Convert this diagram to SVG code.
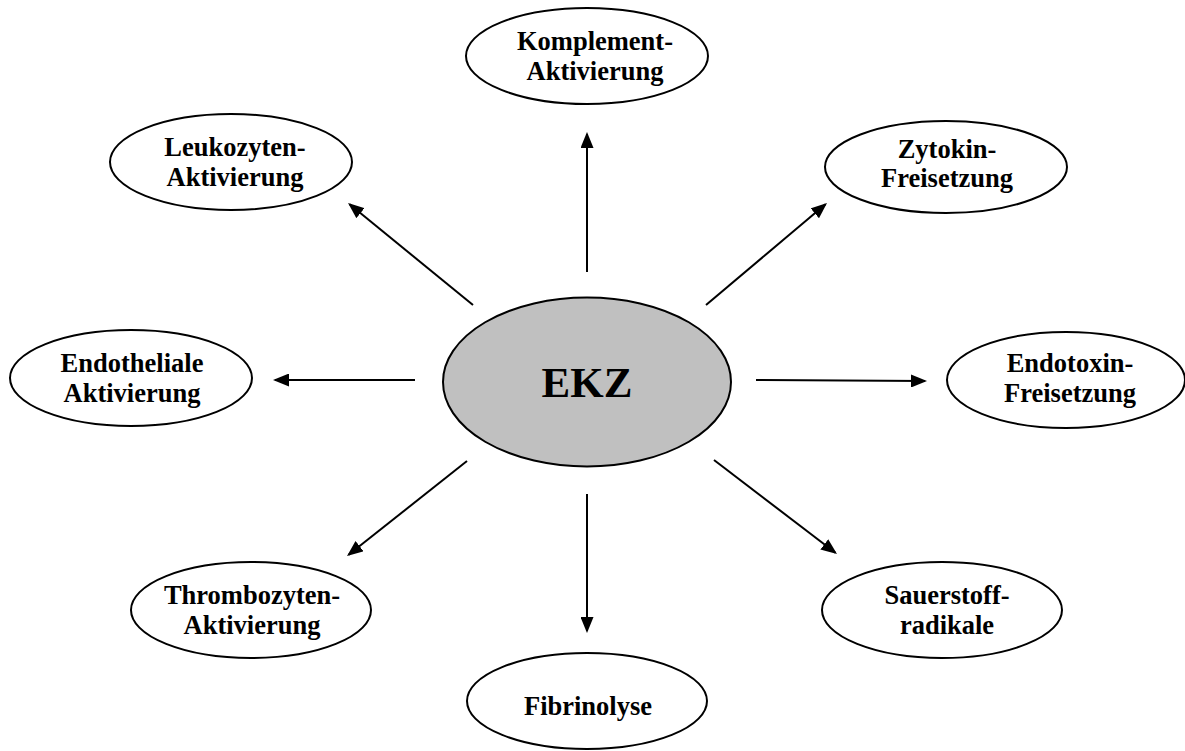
<svg xmlns="http://www.w3.org/2000/svg" width="1185" height="751" viewBox="0 0 1185 751">
  <style>
    .node { fill: #ffffff; stroke: #000000; stroke-width: 2; }
    .hub { fill: #c0c0c0; stroke: #000000; stroke-width: 2; }
    .label { font-family: "Liberation Serif", "Times New Roman", serif; font-weight: bold; font-size: 26.5px; fill: #000000; text-anchor: middle; }
    .hub-label { font-family: "Liberation Serif", "Times New Roman", serif; font-weight: bold; font-size: 43px; fill: #000000; text-anchor: middle; }
    .edge { stroke: #000000; stroke-width: 2; fill: none; marker-end: url(#arrow); }
  </style>
  <defs>
    <marker id="arrow" markerUnits="userSpaceOnUse" markerWidth="17" markerHeight="13" refX="14" refY="6.5" orient="auto">
      <path d="M0,0 L16,6.5 L0,13 Z" fill="#000000"/>
    </marker>
  </defs>

  <rect width="1185" height="751" fill="#ffffff"/>

  <!-- connectors radiating from the hub -->
  <g id="connectors">
    <line class="edge" x1="587" y1="272" x2="587" y2="134"/>
    <line class="edge" x1="473" y1="305" x2="349.6" y2="204.3"/>
    <line class="edge" x1="706" y1="305" x2="825.5" y2="204.3"/>
    <line class="edge" x1="415" y1="380" x2="275" y2="380"/>
    <line class="edge" x1="756" y1="380" x2="925" y2="381"/>
    <line class="edge" x1="467" y1="461" x2="348.6" y2="554.8"/>
    <line class="edge" x1="714" y1="460" x2="835.4" y2="552.8"/>
    <line class="edge" x1="587" y1="494" x2="587" y2="631"/>
  </g>

  <g id="ekz">
    <ellipse class="hub" cx="587" cy="382" rx="144" ry="84.5"/>
    <text class="hub-label" x="587" y="397">EKZ</text>
  </g>

  <g id="komplement">
    <ellipse class="node" cx="587" cy="56" rx="121" ry="48"/>
    <text class="label" x="595" y="50">Komplement-</text>
    <text class="label" x="595" y="80">Aktivierung</text>
  </g>

  <g id="leukozyten">
    <ellipse class="node" cx="231" cy="162" rx="121" ry="48"/>
    <text class="label" x="235" y="156">Leukozyten-</text>
    <text class="label" x="235" y="186">Aktivierung</text>
  </g>

  <g id="zytokin">
    <ellipse class="node" cx="946" cy="167" rx="121" ry="46"/>
    <text class="label" x="947" y="158">Zytokin-</text>
    <text class="label" x="947" y="187">Freisetzung</text>
  </g>

  <g id="endotheliale">
    <ellipse class="node" cx="131" cy="378" rx="121" ry="48"/>
    <text class="label" x="132" y="372">Endotheliale</text>
    <text class="label" x="132" y="402">Aktivierung</text>
  </g>

  <g id="endotoxin">
    <ellipse class="node" cx="1066" cy="380" rx="119" ry="48"/>
    <text class="label" x="1070" y="372">Endotoxin-</text>
    <text class="label" x="1070" y="402">Freisetzung</text>
  </g>

  <g id="thrombozyten">
    <ellipse class="node" cx="251" cy="610" rx="120" ry="48"/>
    <text class="label" x="252" y="604">Thrombozyten-</text>
    <text class="label" x="252" y="634">Aktivierung</text>
  </g>

  <g id="sauerstoff">
    <ellipse class="node" cx="942" cy="610" rx="120" ry="48"/>
    <text class="label" x="947" y="604">Sauerstoff-</text>
    <text class="label" x="947" y="634">radikale</text>
  </g>

  <g id="fibrinolyse">
    <ellipse class="node" cx="587" cy="701" rx="120" ry="48"/>
    <text class="label" x="588" y="715">Fibrinolyse</text>
  </g>
</svg>
